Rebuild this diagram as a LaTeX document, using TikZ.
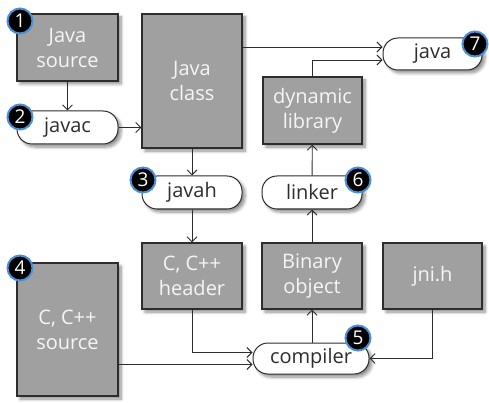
\documentclass[tikz,border=0pt]{standalone}
\usepackage{fontspec}
\setmainfont{Open Sans}
\usetikzlibrary{arrows.meta,shadows.blur,calc}
\definecolor{boxfill}{RGB}{160,160,160}
\definecolor{edge}{RGB}{45,45,45}
\definecolor{badgeblue}{RGB}{74,144,217}
\tikzset{
  softshadow/.style={blur shadow={shadow xshift=3pt,shadow yshift=-3pt,shadow blur steps=8,shadow blur radius=3pt,shadow opacity=45}},
  filebox/.style={draw=edge,line width=1.3pt,fill=boxfill,softshadow,
    text=white!92!gray,align=center,font=\fontsize{20}{25}\selectfont,inner sep=0pt},
  toolpill/.style={draw=edge,line width=1pt,fill=white,rounded corners=15pt,softshadow,
    text=edge,align=center,font=\fontsize{20}{25}\selectfont,inner sep=0pt},
  badge/.style={circle,fill=black,draw=badgeblue,line width=2pt,minimum size=25pt,inner sep=0pt,
    text=white,font=\fontsize{19}{19}\selectfont},
  flow/.style={draw=edge,line width=0.9pt,-{Straight Barb[length=5pt,width=10pt]}}
}
\begin{document}
\begin{tikzpicture}[x=1pt,y=-1pt]
\useasboundingbox (0,0) rectangle (489,403);
% files
\node[filebox,minimum width=101pt,minimum height=67pt] (jsrc) at (67.5,47.5) {Java\\source};
\node[filebox,minimum width=100pt,minimum height=134pt] (jcls) at (192,81) {Java\\class};
\node[filebox,minimum width=99pt,minimum height=67pt] (dlib) at (312.5,110.5) {dynamic\\library};
\node[filebox,minimum width=100pt,minimum height=66pt] (hdr) at (192,276) {C, C++\\header};
\node[filebox,minimum width=100pt,minimum height=66pt] (bin) at (312,276) {Binary\\object};
\node[filebox,minimum width=99pt,minimum height=66pt] (jni) at (432.5,276) {jni.h};
\node[filebox,minimum width=101pt,minimum height=133pt] (csrc) at (67.5,329.5) {C, C++\\source};
% tools
\node[toolpill,minimum width=101pt,minimum height=33pt] (javac) at (67.5,127.5) {javac};
\node[toolpill,minimum width=99pt,minimum height=32pt] (java) at (432.5,54) {java};
\node[toolpill,minimum width=100pt,minimum height=33pt] (javah) at (192,192.5) {javah};
\node[toolpill,minimum width=100pt,minimum height=33pt] (linker) at (312,192.5) {linker};
\node[toolpill,minimum width=116pt,minimum height=31pt] (comp) at (311,358.5) {compiler};
% connectors
\draw[flow] (jsrc) -- (javac);
\draw[flow] (javac) -- (jcls.west |- javac.east);
\draw[flow] ([yshift=7pt]java.west -| jcls.east) -- ([yshift=7pt]java.west);
\draw[flow] (dlib.north) |- ([yshift=-6pt]java.west);
\draw[flow] (jcls) -- (javah);
\draw[flow] (javah) -- (hdr);
\draw[flow] (hdr.south) |- ([yshift=6pt]comp.west);
\draw[flow] ([yshift=-6pt]comp.west -| csrc.east) -- ([yshift=-6pt]comp.west);
\draw[flow] (jni.south) |- (comp.east);
\draw[flow] (comp.north -| bin.south) -- (bin.south);
\draw[flow] (bin) -- (linker);
\draw[flow] (linker) -- (dlib);
% step numbers
\node[badge] (b1) at (20,21) {1};
\node[badge] (b2) at (20,117) {2};
\node[badge] (b3) at (143,180) {3};
\node[badge] (b4) at (20,268) {4};
\node[badge] (b5) at (358,338) {5};
\node[badge] (b6) at (358,180) {6};
\node[badge] (b7) at (475,44) {7};
\end{tikzpicture}
\end{document}
